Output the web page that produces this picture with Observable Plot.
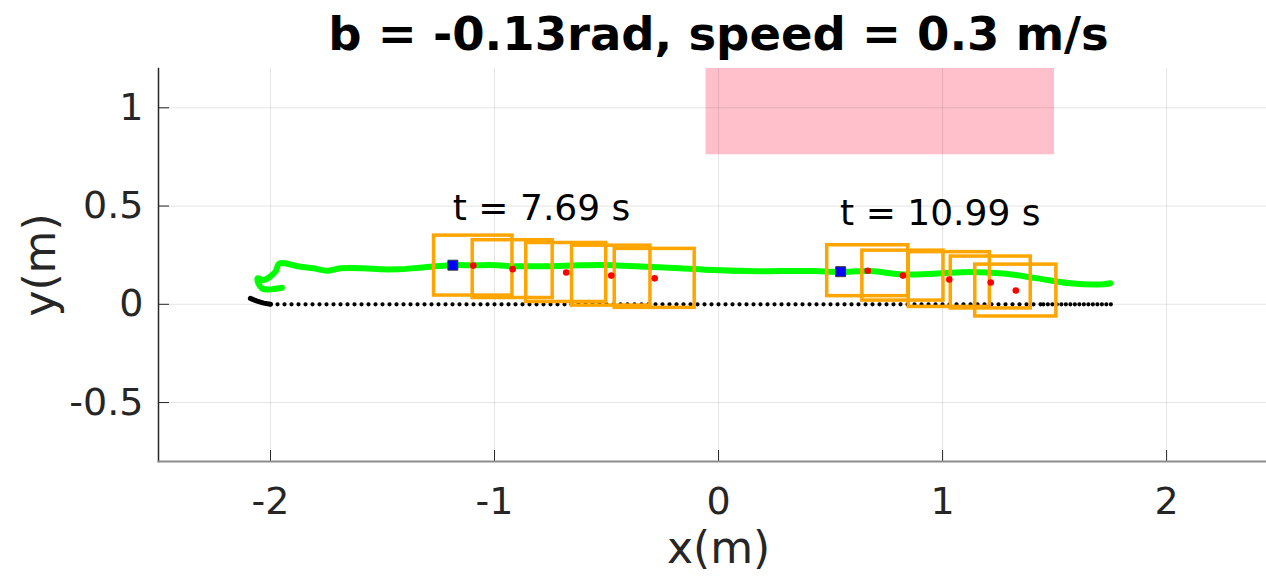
<!DOCTYPE html>
<html>
<head>
<meta charset="utf-8">
<script src="https://cdn.jsdelivr.net/npm/d3@7"></script>
<script src="https://cdn.jsdelivr.net/npm/@observablehq/plot@0.6"></script>
<style>
  html, body { margin: 0; padding: 0; background: white; }
</style>
</head>
<body>
<div id="chart"></div>
<script>
// ---- data ----
const titleText = "b = -0.13rad, speed = 0.3 m/s";
const xTicks = [-2, -1, 0, 1, 2];
const yTicks = [-0.5, 0, 0.5, 1];

// goal / obstacle region (pink)
const regionX = [-0.056, 1.5];
const regionY = [0.761, 1.2];

// reference path (black)
const refStartX = [-2.09, -2.06, -2.03, -2.0];
const refStartY = [0.030, 0.016, 0.006, 0.0];
const refMidX = [-2.0, 1.45];
const refMidY = [0.0, 0.0];
const refEndX = [1.45, 1.771];
const refEndY = [0.0, 0.0];

// actual trajectory (green)
const trajX = [-1.949, -2.038, -2.058, -2.031, -1.979, -1.960, -1.867, -1.809, -1.747, -1.689, -1.586, -1.511, -1.434, -1.363, -1.287, -1.198, -1.095, -0.988, -0.917, -0.765, -0.617, -0.470, -0.318, -0.171, -0.024, 0.128, 0.276, 0.423, 0.544, 0.677, 0.824, 0.976, 1.124, 1.271, 1.423, 1.570, 1.718, 1.749];
const trajY = [0.084, 0.081, 0.132, 0.123, 0.165, 0.208, 0.191, 0.183, 0.171, 0.183, 0.183, 0.178, 0.178, 0.183, 0.191, 0.199, 0.199, 0.199, 0.194, 0.194, 0.199, 0.199, 0.191, 0.183, 0.174, 0.169, 0.169, 0.169, 0.165, 0.169, 0.152, 0.157, 0.165, 0.157, 0.132, 0.107, 0.102, 0.107];

// predicted points (red) with footprint boxes (orange)
const predX = [-1.095, -0.919, -0.680, -0.479, -0.285, 0.666, 0.823, 1.030, 1.215, 1.327];
const predY = [0.197, 0.179, 0.162, 0.146, 0.132, 0.171, 0.146, 0.126, 0.111, 0.070];
const boxW = [0.350, 0.357, 0.357, 0.350, 0.357, 0.362, 0.362, 0.362, 0.357, 0.362];
const boxH = [0.305, 0.294, 0.300, 0.305, 0.300, 0.259, 0.254, 0.279, 0.264, 0.264];

// current positions (blue)
const curX = [-1.186, 0.545];
const curY = [0.199, 0.166];

// time labels
const timeLabels = ["t = 7.69 s", "t = 10.99 s"];
const timeX = [-0.79, 0.99];
const timeY = [0.49, 0.463];

// ---- build tables ----
const zip = (xs, ys) => xs.map((x, i) => ({x, y: ys[i]}));
const refStart = zip(refStartX, refStartY);
const refMid = zip(refMidX, refMidY);
const refEnd = zip(refEndX, refEndY);
const traj = zip(trajX, trajY);
const preds = predX.map((x, i) => ({x, y: predY[i], w: boxW[i], h: boxH[i]}));
const curs = zip(curX, curY);
const times = timeLabels.map((t, i) => ({t, x: timeX[i], y: timeY[i]}));
const region = [{x1: regionX[0], x2: regionX[1], y1: regionY[0], y2: regionY[1]}];
const fmt = d => String(d);

const chart = Plot.plot({
  width: 1266,
  height: 576,
  marginLeft: 158,
  marginRight: 0,
  marginTop: 68,
  marginBottom: 115,
  x: {domain: [-2.5, 2.446]},
  y: {domain: [-0.8, 1.2]},
  style: {fontFamily: "DejaVu Sans", fontSize: "38px", color: "#262626", background: "white", overflow: "visible"},
  marks: [
    Plot.rect(region, {x1: "x1", x2: "x2", y1: "y1", y2: "y2", fill: "#ffc0cb"}),
    Plot.gridX({ticks: xTicks, stroke: "#262626", strokeOpacity: 0.12, strokeWidth: 1}),
    Plot.gridY({ticks: yTicks, stroke: "#262626", strokeOpacity: 0.12, strokeWidth: 1}),
    Plot.tickY(yTicks, {y: d => d, stroke: "#262626", insetRight: 1097, strokeWidth: 1}),
    Plot.tickX(xTicks, {x: d => d, stroke: "#262626", insetTop: 382, strokeWidth: 1}),
    Plot.frame({anchor: "left", stroke: "#262626", strokeWidth: 1.5}),
    Plot.frame({anchor: "bottom", stroke: "#8c8c8c", strokeWidth: 2}),
    Plot.axisY({ticks: yTicks, tickSize: 0, tickPadding: 15, tickFormat: fmt, label: null, fontSize: 38, fill: "#262626"}),
    Plot.axisX({ticks: xTicks, tickSize: 0, tickPadding: 26, tickFormat: fmt, label: null, fontSize: 38, fill: "#262626"}),
    // reference path
    Plot.line(refStart, {x: "x", y: "y", stroke: "black", strokeWidth: 5, strokeLinecap: "round"}),
    Plot.line(refMid, {x: "x", y: "y", stroke: "black", strokeWidth: 4.2, strokeLinecap: "round", strokeDasharray: "0 7"}),
    Plot.line(refEnd, {x: "x", y: "y", stroke: "black", strokeWidth: 4.2, strokeLinecap: "round", strokeDasharray: "0 4.5"}),
    // trajectory
    Plot.line(traj, {x: "x", y: "y", stroke: "#00ff00", strokeWidth: 6, curve: "catmull-rom", strokeLinejoin: "round"}),
    // boxes
    Plot.rect(preds, {
      x1: d => d.x - d.w / 2, x2: d => d.x + d.w / 2,
      y1: d => d.y - d.h / 2, y2: d => d.y + d.h / 2,
      fill: "none", stroke: "#ffa500", strokeWidth: 3.5
    }),
    Plot.dot(preds, {x: "x", y: "y", r: 3.3, fill: "#ff0000", stroke: "none"}),
    Plot.dot(curs, {x: "x", y: "y", symbol: "square", r: 5.6, fill: "#0000ff", stroke: "#333", strokeWidth: 1}),
    // time labels
    Plot.text(times, {x: "x", y: "y", text: "t", fontSize: 36, fill: "black", textAnchor: "middle"}),
    // axis labels & title
    Plot.text([{x: 0, s: "x(m)"}], {x: "x", text: "s", frameAnchor: "bottom", lineAnchor: "middle", dy: 87, fontSize: 44, fill: "#262626"}),
    Plot.text(["y(m)"], {text: d => d, frameAnchor: "left", textAnchor: "middle", lineAnchor: "middle", dx: -118, rotate: -90, fontSize: 44, fill: "#262626"}),
    Plot.text([{x: 0, s: titleText}], {x: "x", text: "s", frameAnchor: "top", lineAnchor: "middle", dy: -33, fontSize: 46.5, fontWeight: "bold", fill: "black"})
  ]
});
document.getElementById("chart").appendChild(chart);
</script>
</body>
</html>
